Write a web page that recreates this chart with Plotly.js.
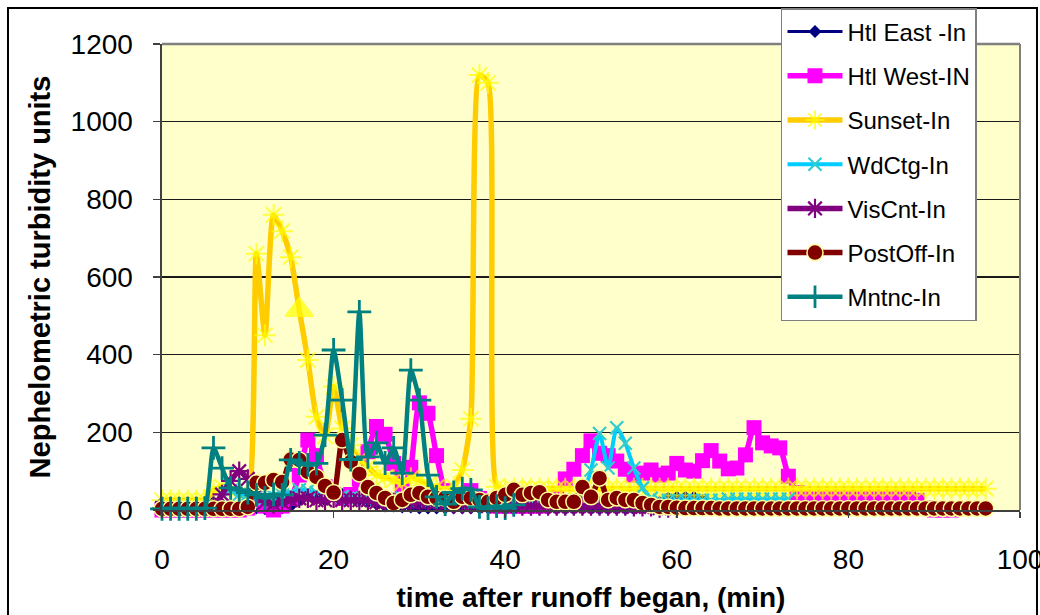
<!DOCTYPE html>
<html>
<head>
<meta charset="utf-8">
<script src="https://cdn.plot.ly/plotly-3.0.1.min.js"></script>
<style>
  html, body { margin: 0; padding: 0; background: #ffffff; }
  #chart { width: 1040px; height: 615px; }
</style>
</head>
<body>
<div id="chart"></div>
<script>
// ---- data (minutes after runoff began) ----
const time = [0,1,2,3,4,5,6,7,8,9,10,11,12,13,14,15,16,17,18,19,20,21,22,23,24,25,26,27,28,29,30,31,32,33,34,35,36,37,38,39,40,41,42,43,44,45,46,47,48,49,50,51,52,53,54,55,56,57,58,59,60,61,62,63,64,65,66,67,68,69,70,71,72,73,74,75,76,77,78,79,80,81,82,83,84,85,86,87,88,89,90,91,92,93,94,95,96];

const seriesNames = ["Htl East -In","Htl West-IN","Sunset-In","WdCtg-In","VisCnt-In","PostOff-In","Mntnc-In"];

const htlEast = [20,20,20,20,20,20,20,15,10,10,
  5,5,3,3,5,10,25,40,30,25,
  35,40,30,25,20,15,10,10,8,8,
  5,5,5,5,5,5,5,5,5,5,
  3,3,3,3,3,3,3,3,3,3,
  3,3,3,3,3,3,5,10,20,30,
  33,33,33,25,10,5,5,3,3,3,
  3,3,2,2,0,0];

const htlWest = [0,0,0,0,0,0,0,0,0,0,
  5,25,10,0,10,30,90,180,140,60,
  40,30,40,80,150,215,195,120,50,110,
  276,249,140,50,30,40,50,30,20,10,
  10,10,10,10,10,15,30,80,105,140,
  178,146,140,126,105,90,95,103,90,95,
  120,103,100,127,153,126,106,108,142,212,
  173,165,160,87,45,40,35,30,40,30,
  30,30,30,30,30,30,30,30,25,5,
  0,0,0];

const sunset = [25,25,25,25,25,25,50,60,50,40,
  30,660,450,760,718,651,515,386,240,190,
  318,210,167,130,111,90,85,77,70,82,
  77,65,59,50,60,103,235,1120,1100,60,
  55,55,55,55,55,55,55,55,55,55,
  55,55,55,55,55,55,55,55,55,55,
  55,55,55,55,55,55,55,55,55,55,
  55,55,55,55,55,55,55,55,55,55,
  55,55,55,55,55,55,55,55,55,55,
  55,55,55,55,55,55,55];

const wdCtg = [5,5,5,5,5,5,10,40,50,40,
  40,35,30,35,40,45,52,50,45,40,
  40,35,30,30,30,30,30,30,30,30,
  25,25,25,25,25,20,20,20,20,20,
  20,20,20,20,20,20,20,20,25,40,
  103,197,108,212,172,108,57,30,25,25,
  25,25,25,25,25,25,28,28,28,28,
  28,28,28,28];

const visCnt = [5,5,5,5,5,5,10,40,75,100,
  80,40,20,15,20,25,30,30,25,25,
  30,25,25,25,25,20,20,20,20,20,
  20,20,20,15,15,15,15,15,10,10,
  10,10,10,10,10,10,10,10,10,10,
  10,10,10,10,10,8,8,8,5,5,
  5];

const postOff = [3,3,3,3,3,3,3,3,3,3,
  8,70,70,77,72,130,129,98,85,62,
  45,180,124,93,59,44,31,18,26,39,
  44,34,31,31,21,34,31,26,21,31,
  39,52,39,44,46,26,21,21,21,59,
  34,82,26,31,26,26,18,13,8,8,
  6,5,5,5,5,4,4,4,4,4,
  4,4,4,4,4,4,4,4,4,4,
  4,4,4,4,4,4,4,4,4,4,
  4,4,4,4,4,4,4];

const mntnc = [3,3,3,3,3,5,160,108,57,52,
  45,39,31,40,39,129,121,116,120,193,
  412,283,130,510,137,173,121,160,95,360,
  283,90,34,15,45,55,52,8,5,10,
  5,13];

const yTicks = [0,200,400,600,800,1000,1200];
const xTicks = [0,20,40,60,80,100];

// ---- styling ----
const FONT = "Liberation Sans, Arial, Helvetica, sans-serif";
const sunsetTriangleAt = 16; // the one point drawn with a triangle marker

function mk(name, ys, line, marker, i) {
  return {
    type: "scatter", mode: "lines+markers", name: name,
    x: time.slice(0, ys.length), y: ys,
    line: Object.assign({shape: "spline", smoothing: 0.6}, line),
    marker: marker, cliponaxis: false,
    legendgroup: "g" + i, hoverinfo: "x+y+name"
  };
}

const sunsetSymbols = sunset.map((v, i) => i === sunsetTriangleAt ? "triangle-up" : "asterisk-open");
const sunsetSizes = sunset.map((v, i) => i === sunsetTriangleAt ? 24 : 18);

const traces = [
  mk(seriesNames[0], htlEast, {color: "#000080", width: 3},
     {symbol: "diamond", size: 10, color: "#000080"}, 0),
  mk(seriesNames[1], htlWest, {color: "#FF00FF", width: 5.5},
     {symbol: "square", size: 15, color: "#FF00FF"}, 1),
  mk(seriesNames[2], sunset, {color: "#FFCC00", width: 5.5},
     {symbol: sunsetSymbols, size: sunsetSizes, color: "#FFFF00", line: {color: "#FFFF00", width: 2}}, 2),
  mk(seriesNames[3], wdCtg, {color: "#00CCFF", width: 4},
     {symbol: "x-thin-open", size: 13, color: "#33CCCC", line: {color: "#33CCCC", width: 2.2}}, 3),
  mk(seriesNames[4], visCnt, {color: "#800080", width: 5.5},
     {symbol: "asterisk-open", size: 16, color: "#800080", line: {color: "#800080", width: 2.2}}, 4),
  mk(seriesNames[5], postOff, {color: "#800000", width: 5.5},
     {symbol: "circle", size: 16, color: "#800000", line: {color: "#FFFF99", width: 1.5}}, 5),
  mk(seriesNames[6], mntnc, {color: "#008080", width: 4.5},
     {symbol: "cross-thin-open", size: 17, color: "#008080", line: {color: "#008080", width: 2.8}}, 6)
];

const layout = {
  width: 1040, height: 615,
  margin: {l: 162, r: 20, t: 44, b: 105, pad: 0, autoexpand: false},
  paper_bgcolor: "#FFFFFF",
  plot_bgcolor: "#FFFFCC",
  font: {family: FONT, color: "#000000"},
  showlegend: true,
  xaxis: {
    range: [0, 100], tickvals: xTicks, ticktext: xTicks.map(String),
    showgrid: false, zeroline: false,
    showline: true, linecolor: "#404040", linewidth: 2,
    ticks: "outside", ticklen: 6, tickwidth: 1.5, tickcolor: "#404040",
    ticklabelstandoff: 17, ticklabeloverflow: "allow",
    tickfont: {family: FONT, size: 28, color: "#000000"},
    title: {text: "time after runoff began, (min)", standoff: 14,
            font: {family: FONT, size: 28, color: "#000000", weight: "bold"}},
    automargin: false, fixedrange: true
  },
  yaxis: {
    range: [0, 1200], tickvals: yTicks, ticktext: yTicks.map(String),
    showgrid: true, gridcolor: "#1a1a1a", gridwidth: 1.2,
    zeroline: false,
    showline: true, linecolor: "#404040", linewidth: 2.5,
    ticks: "outside", ticklen: 7, tickwidth: 1.5, tickcolor: "#404040",
    ticklabelstandoff: 14,
    tickfont: {family: FONT, size: 28, color: "#000000"},
    title: {text: "Nephelometric turbidity units", standoff: 12,
            font: {family: FONT, size: 29, color: "#000000", weight: "bold"}},
    automargin: false, fixedrange: true
  },
  legend: {
    xref: "container", yref: "container",
    x: 0.75096, y: 0.98699, xanchor: "left", yanchor: "top",
    bgcolor: "#FFFFFF", bordercolor: "#808080", borderwidth: 1.5,
    font: {family: FONT, size: 24, color: "#000000"},
    traceorder: "grouped", tracegroupgap: 10, itemwidth: 55,
    maxheight: 600
  },
  shapes: [
    {type: "line", xref: "paper", yref: "paper", x0: 0, x1: 1, y0: 1, y1: 1,
     line: {color: "#808080", width: 2.5}, layer: "above"},
    {type: "line", xref: "paper", yref: "paper", x0: 1, x1: 1, y0: 0, y1: 1,
     line: {color: "#808080", width: 2}, layer: "above"},
    {type: "rect", xref: "paper", yref: "paper", x0: -0.1795, x1: 1.0198, y0: -0.3, y1: 1.0773,
     line: {color: "#000000", width: 2}, fillcolor: "rgba(0,0,0,0)", layer: "above"}
  ]
};

Plotly.newPlot("chart", traces, layout, {staticPlot: true, displayModeBar: false});
</script>
</body>
</html>
